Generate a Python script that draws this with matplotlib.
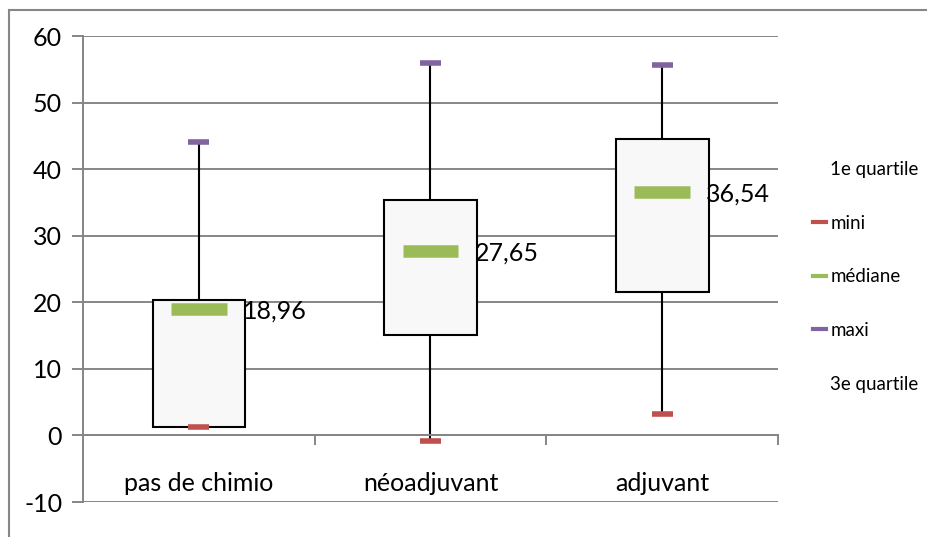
import matplotlib.pyplot as plt
from matplotlib.lines import Line2D
from matplotlib.patches import Rectangle

categories = ["pas de chimio", "néoadjuvant", "adjuvant"]
mini = [1.3, -0.85, 3.15]
q1 = [1.3, 15.1, 21.5]
mediane = [18.96, 27.65, 36.54]
q3 = [20.3, 35.3, 44.6]
maxi = [44.1, 55.9, 55.7]
median_labels = ["18,96", "27,65", "36,54"]

RED = "#c0504d"
GREEN = "#9bbb59"
PURPLE = "#8064a2"
GRAY = "#868686"

plt.rcParams["font.family"] = ["Lato", "DejaVu Sans"]
plt.rcParams["axes.unicode_minus"] = False

fig = plt.figure(figsize=(9.28, 5.37), dpi=100)
ax = fig.add_axes([83 / 928, 35 / 537, 695 / 928, 466 / 537])

x = list(range(len(categories)))

# whiskers behind the boxes
ax.vlines(x, mini, maxi, color="black", lw=1.5, zorder=2)
ax.bar(x, [b - a for a, b in zip(q1, q3)], bottom=q1, width=0.4,
       facecolor="#f8f8f8", edgecolor="black", lw=1.5, zorder=3)
ax.hlines(mini, [i - 0.045 for i in x], [i + 0.045 for i in x], color=RED, lw=4, zorder=4)
ax.hlines(maxi, [i - 0.045 for i in x], [i + 0.045 for i in x], color=PURPLE, lw=4, zorder=4)
ax.hlines(mediane, [i - 0.12 for i in x], [i + 0.12 for i in x], color=GREEN, lw=9, zorder=4)

for i, m, lab in zip(x, mediane, median_labels):
    ax.text(i + 0.19, m - 0.3, lab, ha="left", va="center", fontsize=18, zorder=5)

for i, c in zip(x, categories):
    ax.text(i, -7.2, c, ha="center", va="center", fontsize=18)

ax.set_xlim(-0.5, 2.5)
ax.set_ylim(-10, 60)
ax.set_yticks(range(-10, 61, 10))
ax.yaxis.grid(True, color=GRAY, lw=1.4)
ax.set_axisbelow(True)
ax.tick_params(axis="y", length=8, width=1.4, color=GRAY, labelsize=18, pad=7)

ax.set_xticks([0.5, 1.5, 2.5])
ax.set_xticklabels([])
ax.spines["bottom"].set_position(("data", 0))
ax.spines["bottom"].set_color(GRAY)
ax.spines["bottom"].set_linewidth(1.4)
ax.tick_params(axis="x", length=7, width=1.4, color=GRAY, direction="out")
ax.spines["left"].set_color(GRAY)
ax.spines["left"].set_linewidth(1.4)
ax.spines["top"].set_visible(False)
ax.spines["right"].set_visible(False)

handles = [
    Line2D([], [], color="none"),
    Line2D([], [], color=RED, lw=3),
    Line2D([], [], color=GREEN, lw=3),
    Line2D([], [], color=PURPLE, lw=3),
    Line2D([], [], color="none"),
]
labels = ["1e quartile", "mini", "médiane", "maxi", "3e quartile"]
fig.legend(handles, labels, loc="upper left", bbox_to_anchor=(804 / 928, 1 - 152 / 537),
           frameon=False, fontsize=13.5, handlelength=0.7, handletextpad=0.2,
           labelspacing=1.95, borderpad=0)

fig.patches.append(Rectangle((9 / 928, -0.1), 1.2, 1.1 - 10 / 537, transform=fig.transFigure,
                             fill=False, edgecolor=GRAY, lw=1.5))

fig.savefig("out.png", dpi=100)
